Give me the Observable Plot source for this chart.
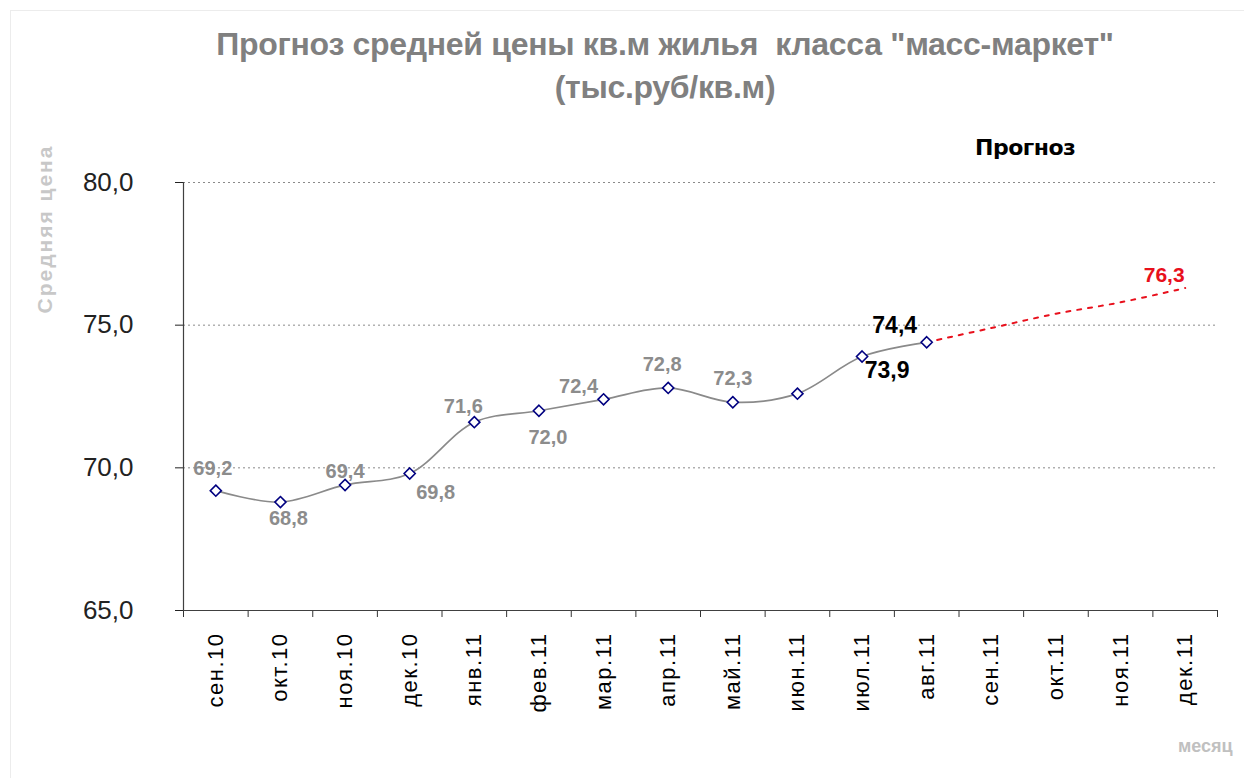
<!DOCTYPE html>
<html><head><meta charset="utf-8">
<script src="https://cdn.jsdelivr.net/npm/d3@7"></script>
<script src="https://cdn.jsdelivr.net/npm/@observablehq/plot@0.6"></script>
<style>
body{margin:0;background:#fff;font-family:"Liberation Sans",Arial,sans-serif;}
#wrap{position:relative;width:1244px;height:778px;overflow:hidden;background:#fff;}
.t{position:absolute;white-space:nowrap;}
#border{position:absolute;left:10px;top:10px;width:1300px;height:800px;border:1px solid #ececec;}
#plot{position:absolute;left:0;top:120px;}
.xlab text{letter-spacing:1.5px;}
</style></head><body>
<div id="wrap">
  <div id="border"></div>
  <div class="t" id="title" style="left:665px;top:23px;transform:translateX(-50%);text-align:center;font-weight:bold;font-size:32px;line-height:43px;letter-spacing:-0.3px;color:#808080;">Прогноз средней цены кв.м жилья&nbsp; класса "масс-маркет"<br>(тыс.руб/кв.м)</div>
  <div class="t" style="left:975px;top:135px;font-family:'DejaVu Sans';font-weight:bold;font-size:22px;line-height:26px;letter-spacing:-0.5px;color:#000;">Прогноз</div>
  <div class="t" style="left:45px;top:229px;transform:translate(-50%,-50%) rotate(-90deg);font-weight:bold;font-size:21px;letter-spacing:2px;color:#c8c8c8;">Средняя цена</div>
  <div class="t" style="left:1178px;top:735px;font-weight:bold;font-size:18px;line-height:22px;color:#c0c0c0;">месяц</div>
  <div id="plot"></div>
</div>
<script>
// Categories (months)
const months = ["сен.10","окт.10","ноя.10","дек.10","янв.11","фев.11","мар.11","апр.11","май.11","июн.11","июл.11","авг.11","сен.11","окт.11","ноя.11","дек.11"];
// Actual average price, сен.10 .. авг.11
const actual = [69.2, 68.8, 69.4, 69.8, 71.6, 72.0, 72.4, 72.8, 72.3, 72.6, 73.9, 74.4];
// Forecast, авг.11 .. дек.11
const forecast = [74.4, 74.9, 75.4, 75.8, 76.3];
const forecastStart = 11;
// Data labels shown on the chart
const labelText = ["69,2","68,8","69,4","69,8","71,6","72,0","72,4","72,8","72,3","","73,9","74,4"];
const yTicks = [65, 70, 75, 80];

// label nudges (style only)
const nudge = [[-3,-22],[8,17],[0,-13],[26,19],[-11,-16],[9,27],[-25,-13],[-6,-23],[0,-24],[0,0],[25,14],[-32,-17]];

const ptsA = actual.map((v, i) => ({i, v, lab: labelText[i]}));
const ptsF = forecast.map((v, k) => ({i: k + forecastStart, v}));
const fmt = d => d.toFixed(1).replace(".", ",");

const labelMarks = ptsA.map((p, i) => {
  if (!p.lab) return null;
  const strong = i >= 10;
  return Plot.text([p], {
    x: "i", y: "v", text: "lab",
    dx: nudge[i][0], dy: nudge[i][1],
    fill: strong ? "#000" : "#8c8c8c",
    fontWeight: "bold",
    fontSize: strong ? 23 : 20
  });
}).filter(Boolean);

const lastF = ptsF[ptsF.length - 1];

const plot = Plot.plot({
  width: 1244, height: 658,
  marginTop: 62, marginLeft: 183, marginRight: 27, marginBottom: 168,
  style: {fontFamily: "'Liberation Sans', Arial, sans-serif", background: "transparent", overflow: "visible"},
  x: {domain: [-0.5, months.length - 0.5]},
  y: {domain: [65, 80]},
  marks: [
    Plot.gridY(yTicks.slice(1), {stroke: "#8a8a8a", strokeOpacity: 1, strokeDasharray: "2,3"}),
    Plot.axisY(yTicks, {tickSize: 8, tickPadding: 42, tickFormat: fmt, fontSize: 26, label: null, color: "#222"}),
    Plot.axisX(d3.range(-0.5, months.length, 1), {tickSize: 7, tickFormat: () => "", label: null, color: "#333"}),
    Plot.axisX(d3.range(months.length), {tickSize: 0, tickPadding: 22, tickRotate: -90, tickFormat: i => months[i], fontSize: 22, label: null, color: "#000", className: "xlab"}),
    Plot.ruleX([-0.5], {stroke: "#404040", strokeWidth: 1.2}),
    Plot.ruleY([65], {stroke: "#404040", strokeWidth: 1.2}),
    Plot.line(ptsF, {x: "i", y: "v", stroke: "#e8101c", strokeWidth: 2, strokeDasharray: "4,7", curve: "catmull-rom"}),
    Plot.line(ptsA, {x: "i", y: "v", stroke: "#8a8a8a", strokeWidth: 1.7, curve: "catmull-rom"}),
    Plot.dot(ptsA, {x: "i", y: "v", symbol: "diamond2", r: 5, fill: "white", stroke: "#000080", strokeWidth: 1.6}),
    ...labelMarks,
    Plot.text([lastF], {x: "i", y: "v", text: d => fmt(d.v), dx: -21, dy: -13, fill: "#e8101c", fontWeight: "bold", fontSize: 21})
  ]
});
document.getElementById("plot").appendChild(plot);
</script>
</body></html>
